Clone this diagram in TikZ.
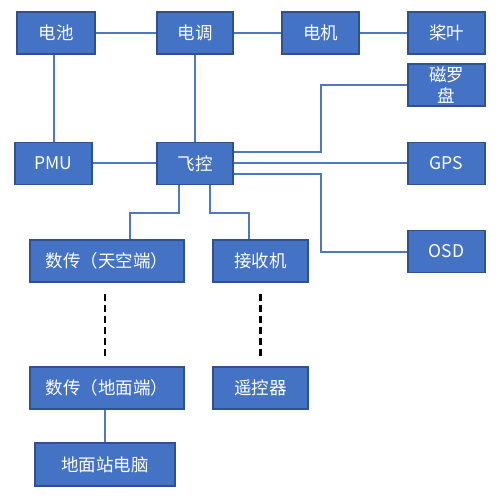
\documentclass[tikz,border=0pt]{standalone}
\usepackage{fontspec}
\newfontfamily\cjk{Noto Sans CJK SC}
\definecolor{boxfill}{HTML}{4472C4}
\definecolor{boxedge}{HTML}{2F528F}
\definecolor{wire}{HTML}{5078C0}
\begin{document}
\begin{tikzpicture}[x=1pt, y=-1pt,
    box/.style={rectangle, draw=boxedge, line width=1.5pt, fill=boxfill, text=white,
      font=\cjk\fontsize{17.5}{21}\selectfont, minimum height=42pt, inner sep=0pt, align=center},
    wire/.style={draw=wire, line width=2pt},
    radio/.style={draw=black, line width=2.8pt, dash pattern=on 7pt off 4pt}]
    \useasboundingbox (0,0) rectangle (499,502);

    \node[box, minimum width=78pt] (bat) at (56,33) {电池};
    \node[box, minimum width=76pt] (esc) at (195,33) {电调};
    \node[box, minimum width=77pt] (mot) at (320.5,33) {电机};
    \node[box, minimum width=77pt] (prop) at (446.5,33) {桨叶};
    \node[box, minimum width=77pt] (mag) at (446.5,85) {磁罗\\盘};
    \node[box, minimum width=77pt] (gps) at (446.5,163.5) {GPS};
    \node[box, minimum width=77pt] (osd) at (446.5,251.5) {OSD};
    \node[box, minimum width=77pt] (pmu) at (53.5,163.5) {PMU};
    \node[box, minimum width=76pt] (fc) at (195,163.5) {飞控};
    \node[box, minimum width=154pt] (dtair) at (107,261) {数传（天空端）};
    \node[box, minimum width=95pt] (rx) at (260.5,261) {接收机};
    \node[box, minimum width=154pt] (dtgnd) at (107,388) {数传（地面端）};
    \node[box, minimum width=95pt] (rc) at (260.5,388) {遥控器};
    \node[box, minimum width=140pt, minimum height=43pt] (gcs) at (105,464.5) {地面站电脑};

    \coordinate (bend) at (321,0);
    \coordinate (knotL) at (130,213);
    \coordinate (knotR) at (249,213);

    \draw[wire] (bat) -- (esc);
    \draw[wire] (esc) -- (mot);
    \draw[wire] (mot) -- (prop);
    \draw[wire] (pmu.north) -- (pmu.north |- bat.south);
    \draw[wire] (esc) -- (fc);
    \draw[wire] (pmu) -- (fc);
    \draw[wire] ([yshift=11pt]fc.east) -- ([yshift=11pt]fc.east -| bend) |- (mag.west);
    \draw[wire] (fc) -- (gps);
    \draw[wire] ([yshift=-11pt]fc.east) -- ([yshift=-11pt]fc.east -| bend) |- (osd.west);
    \draw[wire] ([xshift=-16pt]fc.south) |- (knotL) -- (knotL |- dtair.north);
    \draw[wire] ([xshift=15pt]fc.south) |- (knotR) -- (knotR |- rx.north);
    \draw[wire] (gcs.north) -- (gcs.north |- dtgnd.south);

    \draw[radio, shorten <=11pt, shorten >=7pt] ([xshift=-2pt]dtair.south) -- ([xshift=-2pt]dtgnd.north);
    \draw[radio, shorten <=11pt, shorten >=7pt] (rx.south) -- (rc.north);
\end{tikzpicture}
\end{document}
